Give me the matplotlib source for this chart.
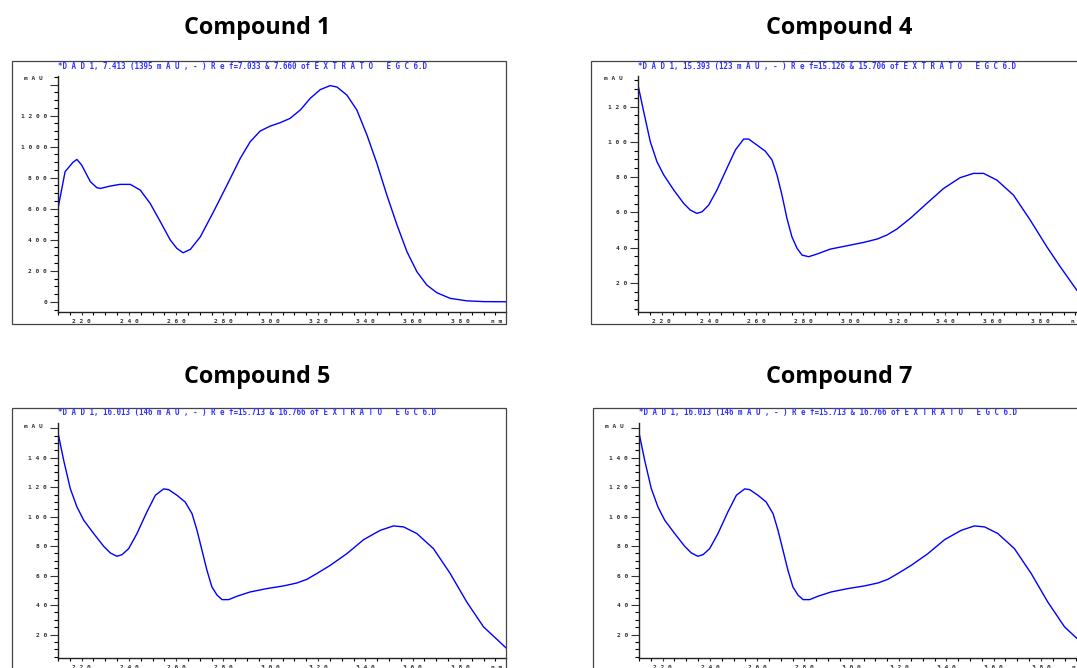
import matplotlib
matplotlib.use("Agg")
import matplotlib.pyplot as plt
from matplotlib.patches import Rectangle
from matplotlib.ticker import MultipleLocator

W, H = 1077, 668

# wavelength (nm) and absorbance (mAU)
wl_c1 = [210, 213, 216.3, 218, 220, 223.7, 226.5, 228, 232, 236.2, 240.6, 244.8, 249,
         253.3, 257.5, 260.3, 262.9, 266, 270.2, 275.8, 281.5, 287.1, 291.3, 295.5,
         299.8, 304, 308.2, 312.5, 316.7, 320.9, 325.1, 328, 332.2, 336.4, 340.7,
         344.9, 349.1, 353.4, 357.6, 361.8, 366, 370.3, 375.9, 382.9, 390, 399.5]
mau_c1 = [602, 839, 899, 918, 882, 774, 735, 731, 746, 757, 757, 720, 634,
          516, 398, 344, 316, 338, 419, 581, 753, 925, 1032, 1101,
          1133, 1155, 1183, 1237, 1312, 1368, 1394, 1385, 1333, 1237, 1075,
          892, 688, 495, 323, 194, 108, 58, 22, 6, 1, 0]

wl_c4 = [210, 212.4, 215.2, 218, 220.9, 225.1, 229.3, 232.1, 234.9, 237.1, 239.9,
         243.4, 247.6, 251.2, 254.7, 256.8, 260.3, 263.8, 266.7, 268.8, 270.9, 273,
         275.1, 277.3, 279.4, 282.2, 285.7, 291.3, 298.4, 305.4, 311.1, 315.3, 319.5,
         325.2, 332.2, 339.3, 346.3, 351.9, 356.2, 361.8, 368.8, 375.9, 382.9, 388.6,
         395.6, 399.5]
mau_c4 = [132.3, 117.2, 100.1, 88.8, 81.2, 72.7, 65.1, 61.3, 59.4, 60.3, 64.1,
          72.7, 85.0, 95.4, 101.6, 101.6, 98.2, 94.8, 89.7, 81.2, 69.8, 56.6,
          46.1, 39.5, 35.7, 34.8, 36.3, 39.1, 41.0, 42.9, 44.8, 47.1, 50.5,
          56.6, 65.1, 73.6, 79.7, 82.1, 82.1, 78.3, 69.8, 55.6, 40.5, 29.1,
          15.8, 10.5]

wl_c5 = [210, 212.4, 215.2, 218, 220.9, 225.1, 229.3, 232.1, 234.9, 237.1, 239.9,
         243.4, 247.6, 251.2, 254.7, 256.8, 260.3, 263.8, 266.7, 268.8, 270.9, 273,
         275.1, 277.3, 279.4, 282.2, 285.7, 291.3, 298.4, 305.4, 311.1, 315.3, 319.5,
         325.2, 332.2, 339.3, 346.3, 351.9, 356.2, 361.8, 368.8, 375.9, 382.9, 390,
         399.5]
mau_c5 = [156.9, 138.2, 119.0, 106.6, 97.5, 88.5, 79.9, 75.4, 73.1, 74.2, 78.3,
          88.5, 103.2, 114.5, 118.8, 118.3, 114.5, 109.9, 102.0, 90.7, 77.2, 63.6,
          52.3, 46.7, 43.7, 43.7, 46.0, 48.9, 51.2, 53.0, 55.0, 57.5, 61.4,
          67.0, 74.9, 84.4, 90.7, 93.7, 93.0, 88.5, 78.3, 61.4, 42.1, 25.2,
          11.0]

wl_c7 = wl_c5
mau_c7 = mau_c5

titles = ["Compound 1", "Compound 4", "Compound 5", "Compound 7"]
headers = [
    "*D A D 1, 7.413 (1395 m A U , - ) R e f=7.033 & 7.660 of E X T R A T O   E G C 6.D",
    "*D A D 1, 15.393 (123 m A U , - ) R e f=15.126 & 15.706 of E X T R A T O   E G C 6.D",
    "*D A D 1, 16.013 (146 m A U , - ) R e f=15.713 & 16.766 of E X T R A T O   E G C 6.D",
    "*D A D 1, 16.013 (146 m A U , - ) R e f=15.713 & 16.766 of E X T R A T O   E G C 6.D",
]

BLUE = "#3333ff"
TICK = "#333333"
MONO = "DejaVu Sans Mono"


def fx(x):
    return x / W


def fy(y):
    return 1 - y / H


def spaced(v):
    return " ".join(str(int(v)))


def panel(fig, wl, mau, title, header, spine_x, axis_top, axis_bot, frame, ylim,
          ymaj, ymin, ylabels_max, title_xy):
    x0, y0, x1, y1 = frame
    fig.patches.append(Rectangle((fx(x0), fy(y1)), fx(x1 - x0), (y1 - y0) / H,
                                 transform=fig.transFigure, fill=False,
                                 edgecolor="#444444", linewidth=0.9))
    fig.text(fx(title_xy[0]), fy(title_xy[1]), title, ha="center", va="center",
             fontsize=16.8, fontweight="bold", family="Open Sans")
    fig.text(fx(spine_x), fy(axis_top - 10), header, ha="left", va="center",
             fontsize=5.45, color=BLUE, family=MONO, fontweight="bold")
    fig.text(fx(spine_x - 15), fy(axis_top + 3), "m A U", ha="right", va="center",
             fontsize=4.4, color=TICK, family=MONO, fontweight="bold")

    ax = fig.add_axes([fx(spine_x), fy(axis_bot), fx(448), (axis_bot - axis_top) / H])
    ax.plot(wl, mau, color="#0000ff", linewidth=1.0)
    ax.set_xlim(210, 399.5)
    ax.set_ylim(*ylim)
    for s in ["top", "right"]:
        ax.spines[s].set_visible(False)
    for s in ["left", "bottom"]:
        ax.spines[s].set_linewidth(1.0)
        ax.spines[s].set_color("#222222")

    xt = list(range(220, 400, 20))
    ax.set_xticks(xt)
    ax.set_xticklabels([spaced(v) for v in xt])
    ax.xaxis.set_minor_locator(MultipleLocator(5))
    yt = [v for v in range(0, int(ylim[1]) + 1, ymaj) if v >= ylim[0]]
    ax.set_yticks(yt)
    ax.set_yticklabels([spaced(v) if v <= ylabels_max else "" for v in yt])
    ax.yaxis.set_minor_locator(MultipleLocator(ymin))
    ax.tick_params(axis="y", which="major", direction="out", length=5.5, width=0.8,
                   pad=2.5, labelsize=4.5, colors=TICK)
    ax.tick_params(axis="y", which="minor", direction="out", length=3.0, width=0.8)
    ax.tick_params(axis="x", which="major", direction="out", length=2.5, width=0.8,
                   pad=2.5, labelsize=4.5, colors=TICK)
    ax.tick_params(axis="x", which="minor", direction="out", length=2.5, width=0.8)
    for lab in ax.get_xticklabels() + ax.get_yticklabels():
        lab.set_family(MONO)
        lab.set_fontweight("bold")
    ax.text(0.98, -0.042, "n m", transform=ax.transAxes, ha="center", va="center",
            fontsize=4.4, color=TICK, family=MONO, fontweight="bold")
    return ax


fig = plt.figure(figsize=(W / 100, H / 100), dpi=100)

panel(fig, wl_c1, mau_c1, titles[0], headers[0], 58, 76, 312, (12, 61, 506, 324),
      (-66, 1456), 200, 50, 1200, (257, 28))
panel(fig, wl_c4, mau_c4, titles[1], headers[1], 638, 76, 312, (591, 61, 1085, 324),
      (3.4, 137.4), 20, 5, 120, (839, 28))
panel(fig, wl_c5, mau_c5, titles[2], headers[2], 58, 423, 658, (12, 408, 506, 672),
      (4.1, 163.5), 20, 5, 140, (257, 377))
panel(fig, wl_c7, mau_c7, titles[3], headers[3], 639, 423, 658, (593, 408, 1087, 672),
      (4.1, 163.5), 20, 5, 140, (839, 377))

fig.savefig("out.png", dpi=100)
